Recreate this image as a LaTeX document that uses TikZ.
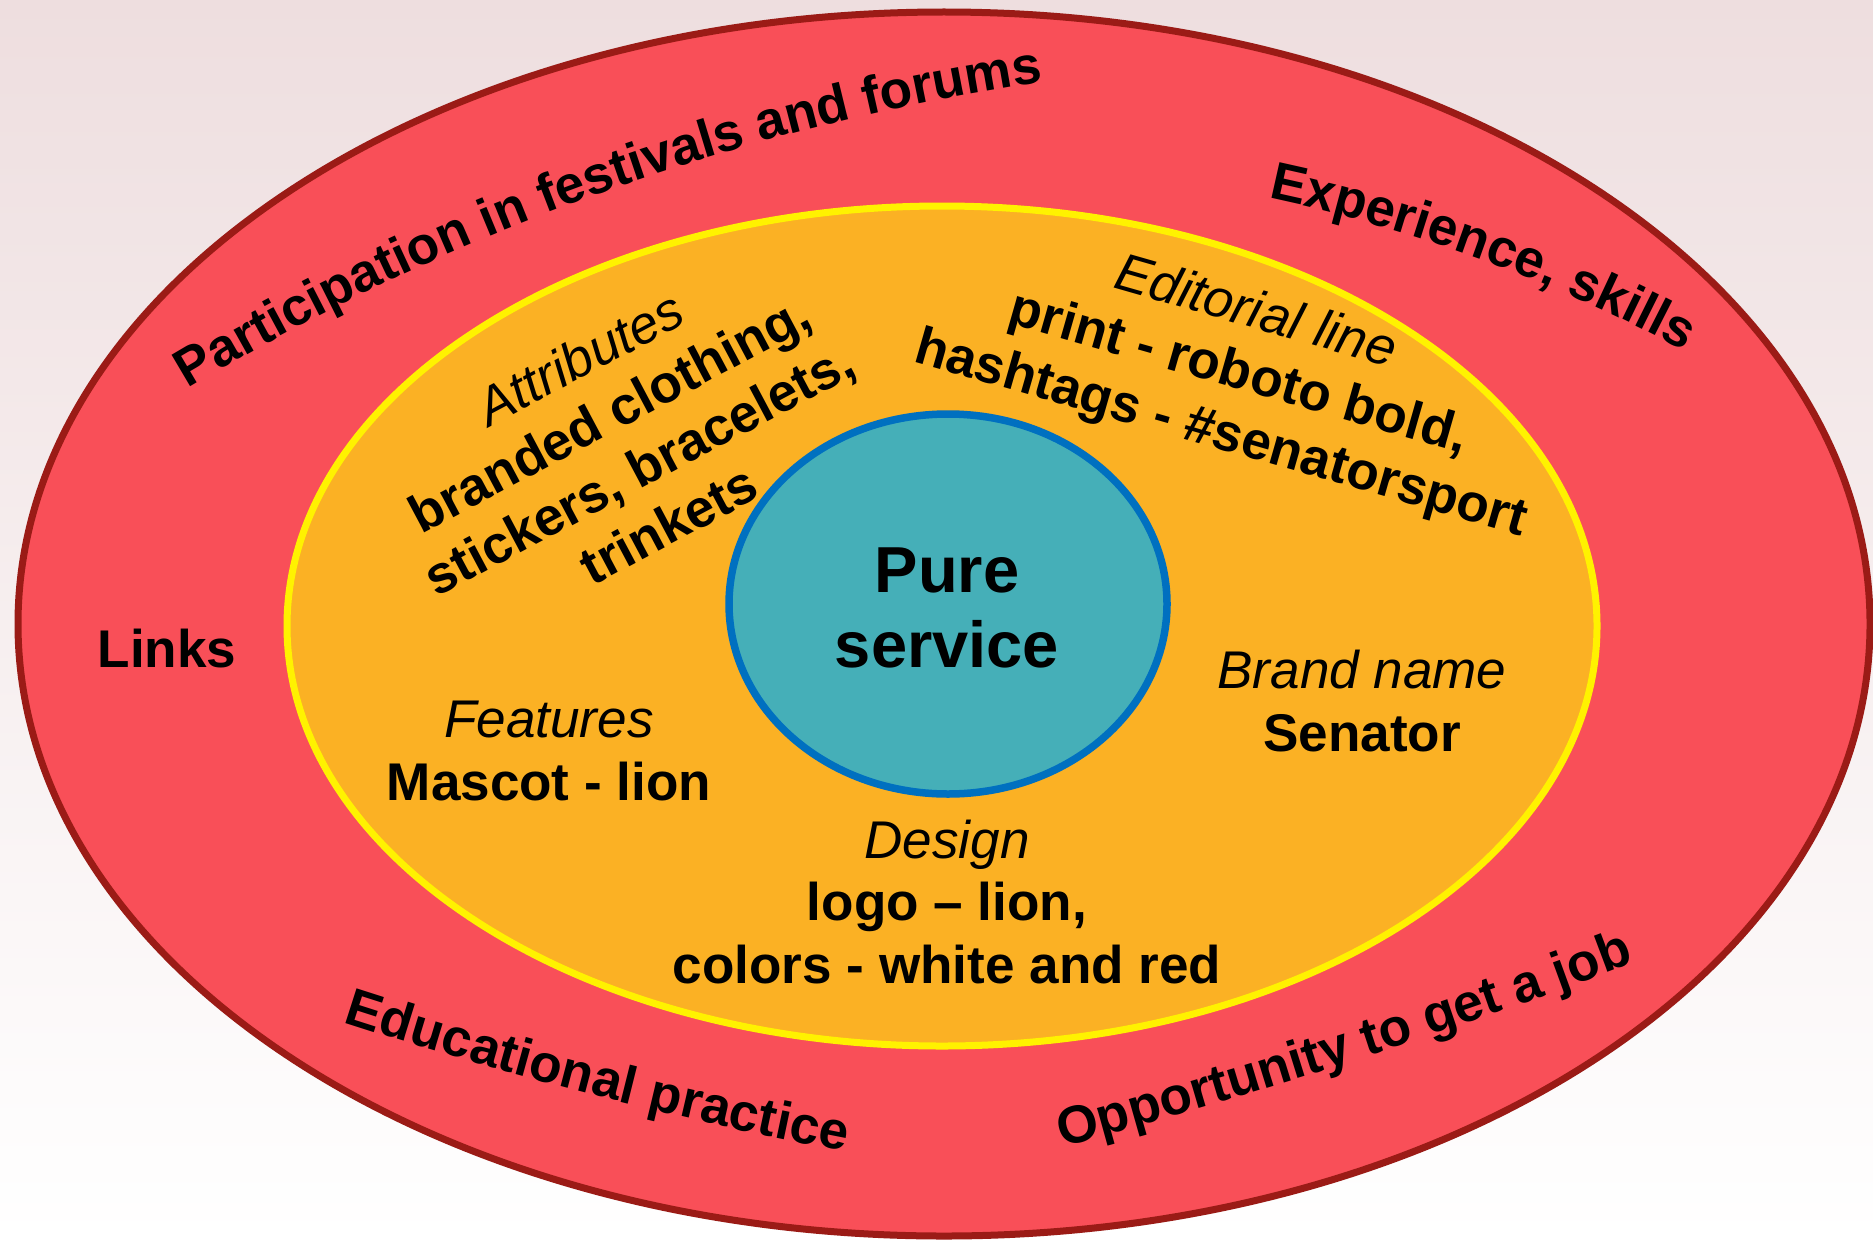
\documentclass[tikz,border=0pt]{standalone}
\usepackage{fontspec}
\setmainfont{Liberation Sans}
\usetikzlibrary{decorations.text}

\definecolor{paper}{RGB}{238,222,223}
\definecolor{ringred}{RGB}{249,79,88}
\definecolor{ringedge}{RGB}{155,27,22}
\definecolor{midorange}{RGB}{251,177,36}
\definecolor{coreteal}{RGB}{69,175,184}
\definecolor{coreblue}{RGB}{0,112,192}

\newcommand{\ringtextfont}{\bfseries\fontsize{15.1}{17.9}\selectfont}

\tikzset{
  ringtext/.style={decorate, decoration={text along path, text align=left,
      text={|\ringtextfont|#1}}},
  block/.style={align=center, inner sep=0pt, font=\ringtextfont},
}

\begin{document}
\begin{tikzpicture}[x=0.1mm, y=0.1mm]
          \useasboundingbox (0,0) rectangle (1873,1239);
          \fill [top color=paper, bottom color=white] (0,0) rectangle (1873,1239);
          % three rings
          \draw [ringedge, line width=0.7mm, fill=ringred] (944,615) ellipse [x radius=926, y radius=612];
          \draw [yellow, line width=0.7mm, fill=midorange] (942,613) ellipse [x radius=655, y radius=420];
          \draw [coreblue, line width=0.75mm, fill=coreteal] (948,635) ellipse [x radius=219, y radius=190];
          % outer ring, bent text
          \path [ringtext={Participation in festivals and forums}] (188,850) arc [start angle=121, end angle=92, radius=2334];
          \path [ringtext={Experience, skills}] (1268,1041) arc [start angle=78, end angle=55, radius=1562];
          \path [ringtext={Educational practice}] (343,217) arc [start angle=-108, end angle=-98, radius=4215];
          \path [ringtext={Opportunity to get a job}] (1062,92) arc [start angle=-75, end angle=-66, radius=6000];
          \node (links) [block] at (167,590) {Links};
          % middle ring
          \node (attrib) [block, rotate=28] at (624,798) {{\mdseries\itshape Attributes}\\branded clothing,\\stickers, bracelets,\\trinkets};
          \node (editorial) [block, rotate=-16] at (1238,864) {{\mdseries\itshape Editorial line}\\print - roboto bold,\\hashtags - \#senatorsport};
          \node (features) [block] at (549,488) {{\mdseries\itshape Features}\\Mascot - lion};
          \node (brand) [block] at (1362,538) {{\mdseries\itshape Brand name}\\Senator};
          \node (design) [block] at (947,337) {{\mdseries\itshape Design}\\logo \textendash{} lion,\\colors - white and red};
          % core
          \node (pure) [block, font=\bfseries\fontsize{18.5}{21.3}\selectfont] at (947,631) {Pure\\service};
        \end{tikzpicture}
\end{document}
